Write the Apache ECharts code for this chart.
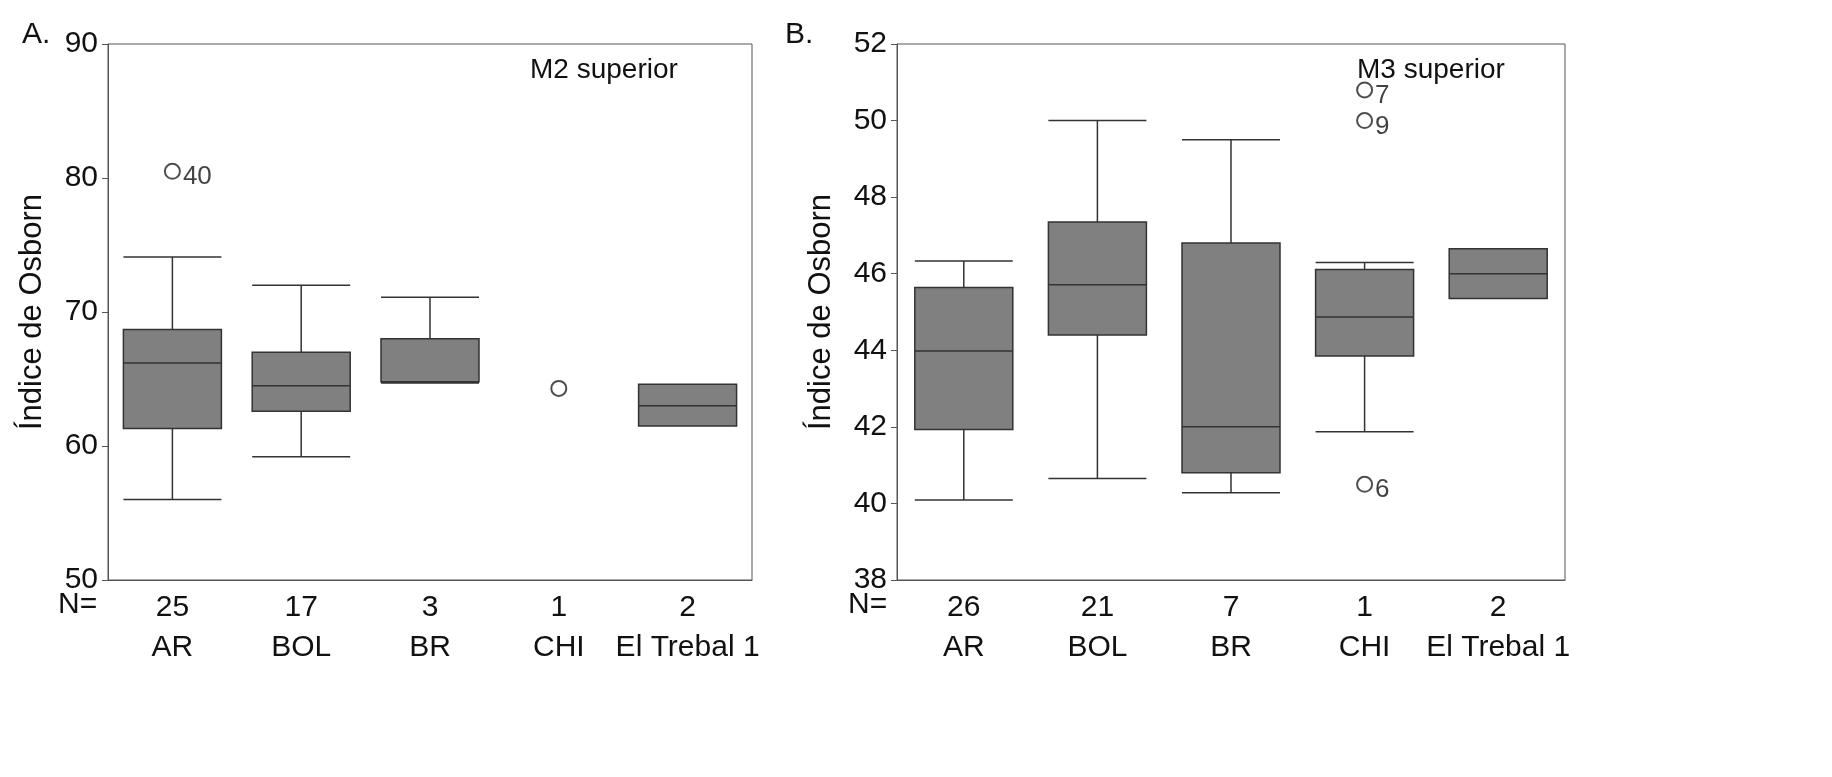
<!DOCTYPE html>
<html>
<head>
<meta charset="utf-8">
<script src="https://cdn.jsdelivr.net/npm/echarts@6/dist/echarts.min.js"></script>
<style>html,body{margin:0;padding:0;background:#fff}#main{width:1832px;height:777px}</style>
</head>
<body>
<div id="main"></div>
<script>
// categorias y tamaños de muestra
var categorias = ['AR', 'BOL', 'BR', 'CHI', 'El Trebal 1'];
var nM2 = [25, 17, 3, 1, 2];
var nM3 = [26, 21, 7, 1, 2];

// [min, Q1, mediana, Q3, max]
var cajasM2 = [
  [56.0, 61.3, 66.2, 68.7, 74.1],
  [59.2, 62.6, 64.5, 67.0, 72.0],
  [64.7, 64.8, 64.8, 68.0, 71.1],
  ['-', '-', '-', '-', '-'],
  [61.5, 61.5, 63.0, 64.6, 64.6]
];
var cajasM3 = [
  [40.09, 41.93, 43.98, 45.64, 46.33],
  [40.65, 44.4, 45.71, 47.35, 50.0],
  [40.28, 40.8, 42.0, 46.8, 49.5],
  [41.87, 43.85, 44.87, 46.11, 46.29],
  [45.35, 45.35, 46.0, 46.65, 46.65]
];
// atípicos: [categoria, valor, etiqueta]
var atipicosM2 = [[0, 80.5, '40'], [3, 64.3, '']];
var atipicosM3 = [[3, 50.8, '7'], [3, 50.0, '9'], [3, 40.5, '6']];

var fuente = 'Liberation Sans, Arial, sans-serif';
var myChart = echarts.init(document.getElementById('main'));

function ejeX(idx, n) {
  return {
    type: 'category', gridIndex: idx, data: categorias,
    axisLine: { lineStyle: { color: '#555' } },
    axisTick: { show: false },
    axisLabel: {
      interval: 0, color: '#111', fontFamily: fuente, fontSize: 30, lineHeight: 40, margin: 8,
      formatter: function (v, i) { return n[i] + '\n' + v; }
    }
  };
}
function ejeY(idx, min, max, step) {
  return {
    type: 'value', gridIndex: idx, min: min, max: max, interval: step,
    name: 'Índice de Osborn', nameLocation: 'middle', nameGap: 60,
    nameTextStyle: { fontFamily: fuente, fontSize: 31, color: '#111' },
    axisLine: { show: true, lineStyle: { color: '#555' } },
    axisTick: { show: true, length: 6, lineStyle: { color: '#555' } },
    splitLine: { show: false },
    axisLabel: { color: '#111', fontFamily: fuente, fontSize: 30, margin: 10 }
  };
}
function caja(idx, datos) {
  return {
    type: 'boxplot', xAxisIndex: idx, yAxisIndex: idx, data: datos,
    boxWidth: [98, 98],
    itemStyle: { color: '#808080', borderColor: '#333', borderWidth: 1.5 }
  };
}
function puntos(idx, datos) {
  return {
    type: 'scatter', xAxisIndex: idx, yAxisIndex: idx, z: 5,
    data: datos.map(function (d) { return { value: [d[0], d[1]], label: { formatter: d[2] } }; }),
    symbol: 'emptyCircle', symbolSize: 15,
    itemStyle: { color: '#222', borderColor: '#222', borderWidth: 1.5 },
    label: { show: true, position: 'right', distance: 2, offset: [0, 6], fontFamily: fuente, fontSize: 26, color: '#111' }
  };
}

var option = {
  animation: false,
  grid: [
    { left: 108, top: 44, width: 644, height: 536, show: true, borderColor: '#555', borderWidth: 1 },
    { left: 897, top: 44, width: 668, height: 536, show: true, borderColor: '#555', borderWidth: 1 }
  ],
  xAxis: [ejeX(0, nM2), ejeX(1, nM3)],
  yAxis: [ejeY(0, 50, 90, 10), ejeY(1, 38, 52, 2)],
  graphic: [
    { type: 'text', left: 22, top: 20, style: { text: 'A.', font: '30px ' + fuente, fill: '#111' } },
    { type: 'text', left: 785, top: 20, style: { text: 'B.', font: '30px ' + fuente, fill: '#111' } },
    { type: 'text', left: 530, top: 56, style: { text: 'M2 superior', font: '28px ' + fuente, fill: '#111' } },
    { type: 'text', left: 1357, top: 56, style: { text: 'M3 superior', font: '28px ' + fuente, fill: '#111' } },
    { type: 'text', left: 58, top: 590, style: { text: 'N=', font: '30px ' + fuente, fill: '#111' } },
    { type: 'text', left: 848, top: 590, style: { text: 'N=', font: '30px ' + fuente, fill: '#111' } }
  ],
  series: [caja(0, cajasM2), puntos(0, atipicosM2), caja(1, cajasM3), puntos(1, atipicosM3)]
};
myChart.setOption(option);
</script>
</body>
</html>
